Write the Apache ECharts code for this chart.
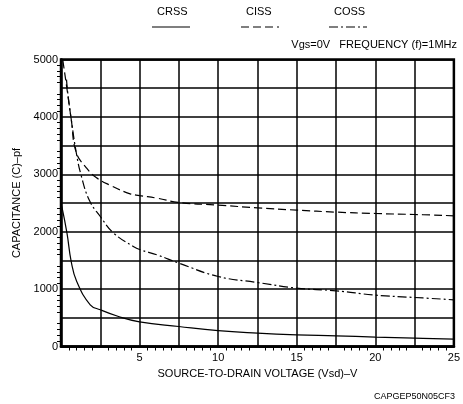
<!DOCTYPE html>
<html>
<head>
<meta charset="utf-8">
<script src="https://cdn.jsdelivr.net/npm/echarts@6/dist/echarts.min.js"></script>
<style>html,body{margin:0;padding:0;background:#fff}#c{width:463px;height:404px}</style>
</head>
<body>
<div id="c"></div>
<script>
const seriesNames = ['CRSS', 'CISS', 'COSS'];
const crssVoltage = [0.05, 0.38, 0.65, 1.0, 1.86, 2.5, 3.66, 5, 7.5, 10, 12.5, 15, 17.5, 20, 22.5, 25];
const crssValues  = [2440, 1975, 1480, 1132, 727, 640, 523, 430, 348, 275, 233, 204, 186, 164, 146, 129];
const cissVoltage = [0.12, 0.4, 0.65, 0.97, 1.6, 2.24, 3.2, 4.4, 5, 6.1, 7.5, 10, 12.5, 15, 17.5, 20, 22.5, 25];
const cissValues  = [4980, 4450, 3960, 3380, 3118, 2944, 2800, 2660, 2630, 2585, 2509, 2463, 2416, 2376, 2341, 2317, 2300, 2277];
const cossVoltage = [0.35, 0.45, 0.65, 0.97, 1.29, 1.82, 2.5, 3.35, 4.6, 5.04, 6.1, 7.5, 10, 12.5, 15, 17.5, 20, 22.5, 25];
const cossValues  = [4650, 4370, 3960, 3380, 2974, 2538, 2265, 1976, 1742, 1685, 1598, 1453, 1220, 1115, 1017, 970, 895, 854, 814];
const xTickLabels = ['5', '10', '15', '20', '25'];
const yTickLabels = ['0', '1000', '2000', '3000', '4000', '5000'];
const xAxisTitle = 'SOURCE-TO-DRAIN VOLTAGE (Vsd)–V';
const yAxisTitle = 'CAPACITANCE (C)–pf';
const noteText = 'Vgs=0V   FREQUENCY (f)=1MHz';
const codeText = 'CAPGEP50N05CF3';

const pair = (xs, ys) => xs.map((x, i) => [x, ys[i]]);
const FONT = 'Liberation Sans, Arial, sans-serif';
const styles = {
  CRSS: { type: 'solid' },
  CISS: { type: [8, 4] },
  COSS: { type: [9, 3, 2, 3] }
};
const dataMap = {
  CRSS: pair(crssVoltage, crssValues),
  CISS: pair(cissVoltage, cissValues),
  COSS: pair(cossVoltage, cossValues)
};
const legendX = [171, 260, 348];

const chart = echarts.init(document.getElementById('c'), null, { renderer: 'canvas' });
const graphics = [];
seriesNames.forEach((n, i) => {
  graphics.push({ type: 'text', left: legendX[i] - 14, top: 6,
    style: { text: n, font: '11px ' + FONT, fill: '#000' } });
  graphics.push({ type: 'line', shape: { x1: legendX[i] - 19, y1: 27, x2: legendX[i] + 19, y2: 27 },
    style: { stroke: '#000', lineWidth: 1.2, lineDash: styles[n].type === 'solid' ? null : styles[n].type } });
});
graphics.push({ type: 'text', right: 6, top: 39, style: { text: noteText, font: '11px ' + FONT, fill: '#000' } });
graphics.push({ type: 'text', right: 8, top: 392, style: { text: codeText, font: '9px ' + FONT, fill: '#000' } });

chart.setOption({
  animation: false,
  backgroundColor: '#fff',
  grid: { left: 61, right: 8, top: 59.5, bottom: 57.5, show: true, borderColor: '#000', borderWidth: 2.5 },
  graphic: graphics,
  xAxis: {
    type: 'value', min: 0, max: 25, interval: 2.5,
    name: xAxisTitle, nameLocation: 'middle', nameGap: 22,
    nameTextStyle: { fontFamily: FONT, fontSize: 11, color: '#000', verticalAlign: 'top' },
    axisLine: { show: true, lineStyle: { color: '#000', width: 2.5 } },
    axisTick: { show: false },
    minorTick: { show: true, splitNumber: 5, length: 4, lineStyle: { color: '#000', width: 1 } },
    axisLabel: { color: '#000', fontFamily: FONT, fontSize: 11, margin: 6,
      formatter: v => (xTickLabels.indexOf(String(v)) >= 0 ? String(v) : '') },
    splitLine: { show: true, lineStyle: { color: '#000', width: 1.5 } }
  },
  yAxis: {
    type: 'value', min: 0, max: 5000, interval: 500,
    name: yAxisTitle, nameLocation: 'middle', nameGap: 38, nameRotate: 90,
    nameTextStyle: { fontFamily: FONT, fontSize: 11, color: '#000' },
    axisLine: { show: true, lineStyle: { color: '#000', width: 2.5 } },
    axisTick: { show: false },
    minorTick: { show: true, splitNumber: 5, length: 4, lineStyle: { color: '#000', width: 1 } },
    axisLabel: { color: '#000', fontFamily: FONT, fontSize: 11, margin: 3,
      formatter: v => (yTickLabels.indexOf(String(v)) >= 0 ? String(v) : '') },
    splitLine: { show: true, lineStyle: { color: '#000', width: 1.5 } }
  },
  series: seriesNames.map(n => ({
    name: n, type: 'line', data: dataMap[n], showSymbol: false,
    smooth: 0.45,
    lineStyle: { color: '#000', width: 1.2, type: styles[n].type }
  }))
});
</script>
</body>
</html>
